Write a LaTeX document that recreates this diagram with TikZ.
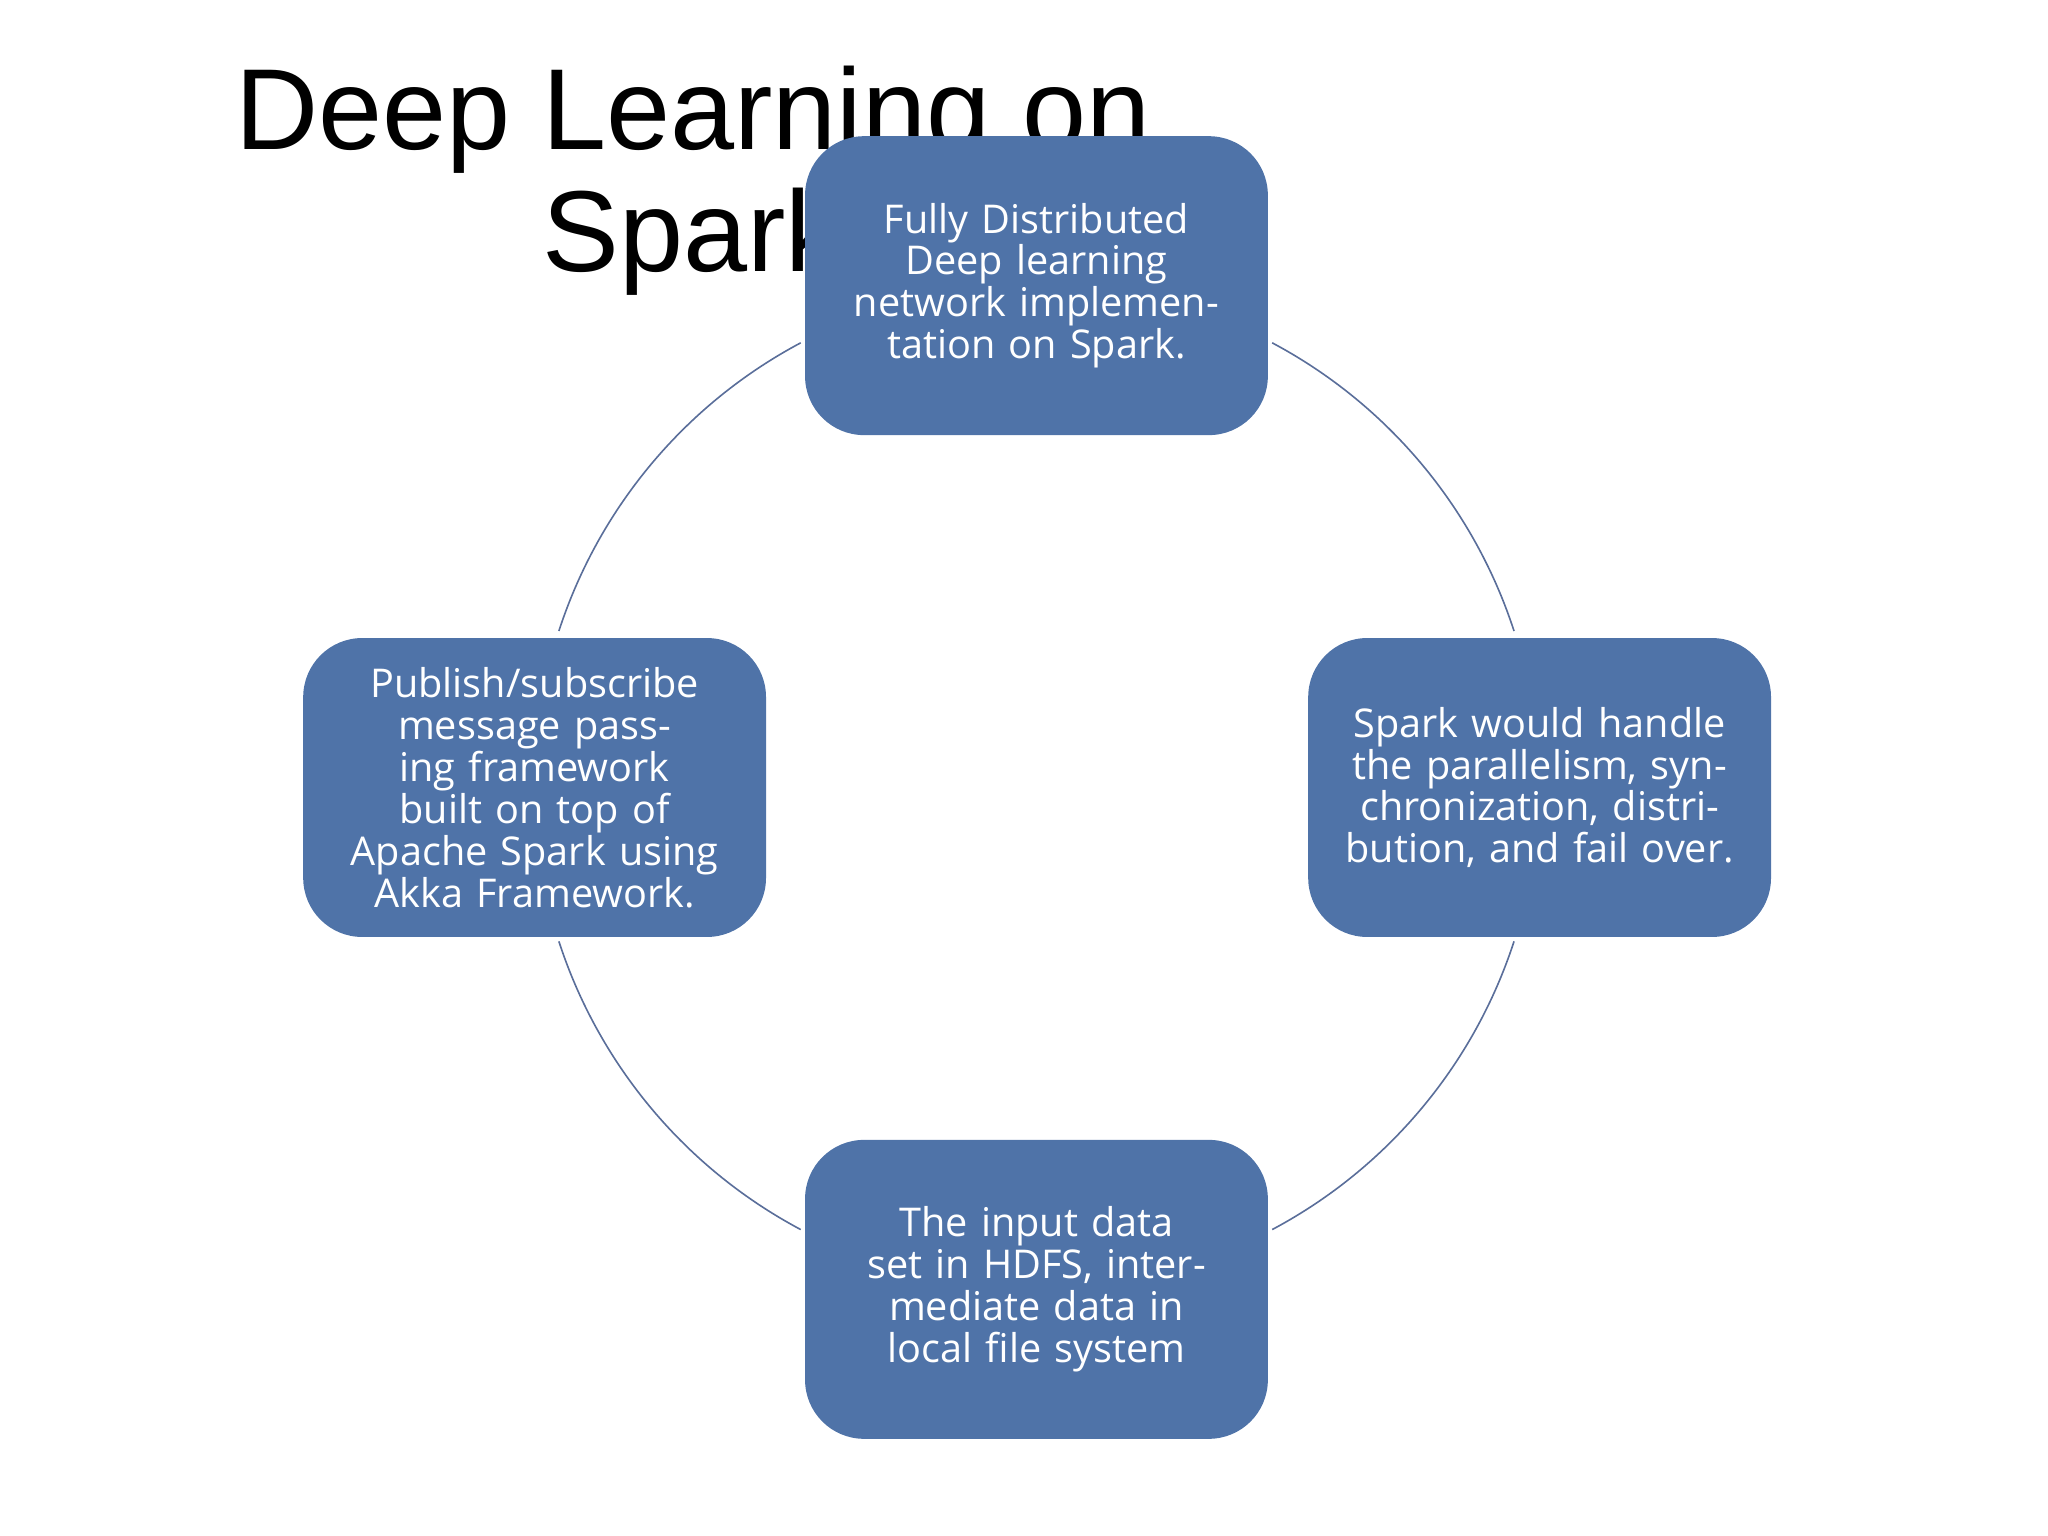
\documentclass[tikz,border=0pt]{standalone}
\usepackage{fontspec}
\setmainfont{Liberation Sans}
\newfontfamily\boxfont{Open Sans}
\definecolor{boxblue}{HTML}{4F73A8}
\definecolor{ringblue}{HTML}{5A6E9A}
\begin{document}
\begin{tikzpicture}[x=0.01cm,y=-0.01cm,
  box/.style={rectangle, rounded corners=0.45cm, fill=boxblue, draw=none,
    minimum width=3.53cm, minimum height=2.28cm, text width=3.2cm,
    align=center, text=white, font=\boxfont\fontsize{8.6}{9.1}\selectfont,
    inner sep=0pt},
  ring/.style={draw=ringblue, line width=0.35pt}]
  \useasboundingbox (0,0) rectangle (1563,1172);
  \node[font=\fontsize{25}{26.5}\selectfont, align=center, anchor=north]
    (title) at (529,38) {Deep Learning on\\Spark};
  \coordinate (c) at (791,600);
  \draw[ring] (c) ++(118:3.83cm) arc[start angle=118, end angle=162, radius=3.83cm];
  \draw[ring] (c) ++(62:3.83cm) arc[start angle=62, end angle=18, radius=3.83cm];
  \draw[ring] (c) ++(-18:3.83cm) arc[start angle=-18, end angle=-62, radius=3.83cm];
  \draw[ring] (c) ++(-118:3.83cm) arc[start angle=-118, end angle=-162, radius=3.83cm];
  \node[box] (top) at (791,218) {Fully Distributed Deep learning network implementation on Spark.};
  \node[box] (left) at (408,601) {Publish/subscribe message passing framework built on top of Apache Spark using Akka Framework.};
  \node[box] (right) at (1175,601) {Spark would handle the parallelism, synchronization, distribution, and fail over.};
  \node[box] (bottom) at (791,984) {The input data set in HDFS, intermediate data in local file system};
\end{tikzpicture}
\end{document}
